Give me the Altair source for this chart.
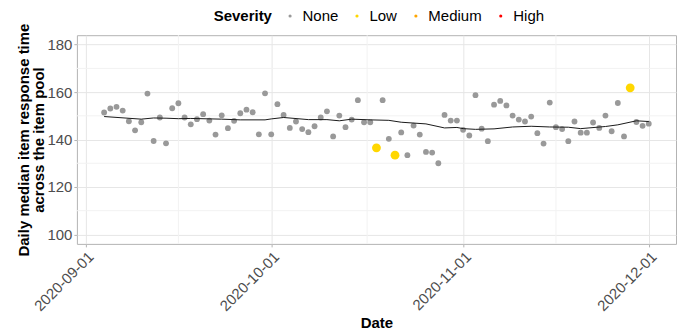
import altair as alt
import pandas as pd

# ---- data ----
dates = pd.date_range("2020-09-04", "2020-12-01", freq="D").strftime("%Y-%m-%d").tolist()

values = [
    # Sep 4 - Sep 30
    151.4, 153.1, 153.8, 152.2, 147.7, 143.9, 147.3, 159.4, 139.4, 149.3,
    138.4, 153.2, 155.3, 149.3, 146.4, 148.6, 150.7, 148.0, 142.1, 150.2,
    144.8, 147.9, 151.1, 152.6, 151.5, 142.2, 159.5,
    # Oct 1 - Oct 31
    142.2, 154.9, 150.4, 144.9, 147.6, 144.4, 143.1, 145.6, 149.3, 151.9,
    141.3, 150.1, 145.2, 148.4, 156.6, 147.3, 147.3, 136.5, 156.6, 140.3,
    133.4, 143.0, 133.4, 145.9, 142.1, 134.8, 134.5, 130.0, 150.4, 148.0,
    148.0,
    # Nov 1 - Nov 30
    144.1, 141.7, 158.7, 144.6, 139.3, 154.7, 156.3, 154.4, 150.1, 148.4,
    147.6, 149.7, 142.7, 138.3, 155.6, 145.2, 144.4, 139.3, 147.6, 142.9,
    142.9, 147.2, 144.9, 150.1, 143.5, 155.4, 141.3, 161.8, 147.4, 145.8,
    # Dec 1
    146.7,
]

low_dates = ["2020-10-18", "2020-10-21", "2020-11-28"]
severity = ["Low" if d in low_dates else "None" for d in dates]

sev_levels = ["None", "Low", "Medium", "High"]
sev_colors = ["#999999", "#FFD700", "#FFA500", "#FF0000"]

smooth_dates = [
    "2020-09-04", "2020-09-10", "2020-09-12", "2020-09-14", "2020-09-16",
    "2020-09-18", "2020-09-23", "2020-09-26", "2020-09-30", "2020-10-01",
    "2020-10-03", "2020-10-07", "2020-10-10", "2020-10-12", "2020-10-14",
    "2020-10-17", "2020-10-20", "2020-10-22", "2020-10-26", "2020-10-29",
    "2020-10-31", "2020-11-01", "2020-11-03", "2020-11-06", "2020-11-09",
    "2020-11-12", "2020-11-15", "2020-11-18", "2020-11-20", "2020-11-24",
    "2020-11-26", "2020-11-29", "2020-12-01",
]
smooth_values = [
    149.7, 148.6, 149.1, 149.0, 148.8,
    148.9, 148.6, 148.3, 148.3, 148.7,
    149.3, 148.4, 148.4, 147.9, 148.6,
    148.3, 148.1, 147.3, 146.6, 144.9,
    145.1, 144.6, 144.3, 144.5, 145.3,
    145.6, 145.3, 145.2, 144.6, 145.5,
    146.2, 147.9, 147.6,
]

minor_x = ["2020-09-16T00:00:00Z", "2020-10-16T12:00:00Z", "2020-11-16T00:00:00Z"]
minor_y = [110, 130, 150, 170]
y_ticks = [100, 120, 140, 160, 180]

points_df = pd.DataFrame({"date": dates, "value": values, "severity": severity})
none_df = points_df[points_df["severity"] == "None"]
flag_df = points_df[points_df["severity"] != "None"]
smooth_df = pd.DataFrame({"date": smooth_dates, "value": smooth_values})
mx_df = pd.DataFrame({"date": minor_x})
my_df = pd.DataFrame({"value": minor_y})

FONT = "Liberation Sans"

x_scale = alt.Scale(
    type="utc",
    domain=[
        alt.DateTime(year=2020, month=8, date=30, hours=14, minutes=24, utc=True),
        alt.DateTime(year=2020, month=12, date=5, hours=9, minutes=36, utc=True),
    ],
)
x_axis = alt.Axis(
    values=[
        alt.DateTime(year=2020, month=9, date=1, utc=True),
        alt.DateTime(year=2020, month=10, date=1, utc=True),
        alt.DateTime(year=2020, month=11, date=1, utc=True),
        alt.DateTime(year=2020, month=12, date=1, utc=True),
    ],
    labelExpr="utcFormat(datum.value, '%Y-%m-%d')",
    labelAngle=-45,
    labelAlign="right",
    labelBaseline="top",
    labelPadding=2,
    title="Date",
    titlePadding=2,
)
y_scale = alt.Scale(domain=[96, 184], nice=False, zero=False)
y_axis = alt.Axis(
    values=y_ticks,
    title=["Daily median item response time", "across the item pool"],
    titlePadding=0,
    titleLineHeight=15,
    labelPadding=2,
    minExtent=30,
    maxExtent=30,
)

X = alt.X("date:T", scale=x_scale, axis=x_axis)
Y = alt.Y("value:Q", scale=y_scale, axis=y_axis)

color_enc = alt.Color(
    "severity:N",
    scale=alt.Scale(domain=sev_levels, range=sev_colors),
    legend=alt.Legend(
        title="Severity",
        orient="none",
        legendX=137,
        legendY=-27,
        direction="horizontal",
        titleOrient="left",
        titleFontSize=15,
        titleFontWeight="bold",
        titleColor="black",
        titleFont=FONT,
        titlePadding=10,
        labelFontSize=15,
        labelFont=FONT,
        labelColor="black",
        labelOffset=5,
        columnPadding=11,
        symbolSize=10,
        symbolType="circle",
        symbolStrokeWidth=0,
    ),
)

minor_x_rules = alt.Chart(mx_df).mark_rule(color="#F2F2F2", strokeWidth=1).encode(x=X)
minor_y_rules = alt.Chart(my_df).mark_rule(color="#F2F2F2", strokeWidth=1).encode(y=Y)

pts_none = alt.Chart(none_df).mark_circle(opacity=1, size=34).encode(x=X, y=Y, color=color_enc)
pts_flag = alt.Chart(flag_df).mark_circle(opacity=1, size=78).encode(x=X, y=Y, color=color_enc)

line = alt.Chart(smooth_df).mark_line(color="#1A1A1A", strokeWidth=1).encode(x=X, y=Y)

chart = (
    alt.layer(minor_x_rules, minor_y_rules, pts_none, line, pts_flag)
    .properties(width=600, height=209, padding={"left": 8, "top": 0, "right": 0, "bottom": 0})
    .configure_view(stroke="#B3B3B3", strokeWidth=1)
    .configure_legend(symbolSize=10)
    .configure_axis(
        gridColor="#E6E6E6",
        gridWidth=1,
        domain=False,
        tickColor="#B3B3B3",
        tickSize=3,
        labelColor="#4D4D4D",
        labelFontSize=15,
        labelFont=FONT,
        titleFont=FONT,
        titleFontSize=15,
        titleFontWeight="bold",
        titleColor="black",
    )
)

chart.save("out.html", embed_options={"renderer": "svg", "actions": False})
